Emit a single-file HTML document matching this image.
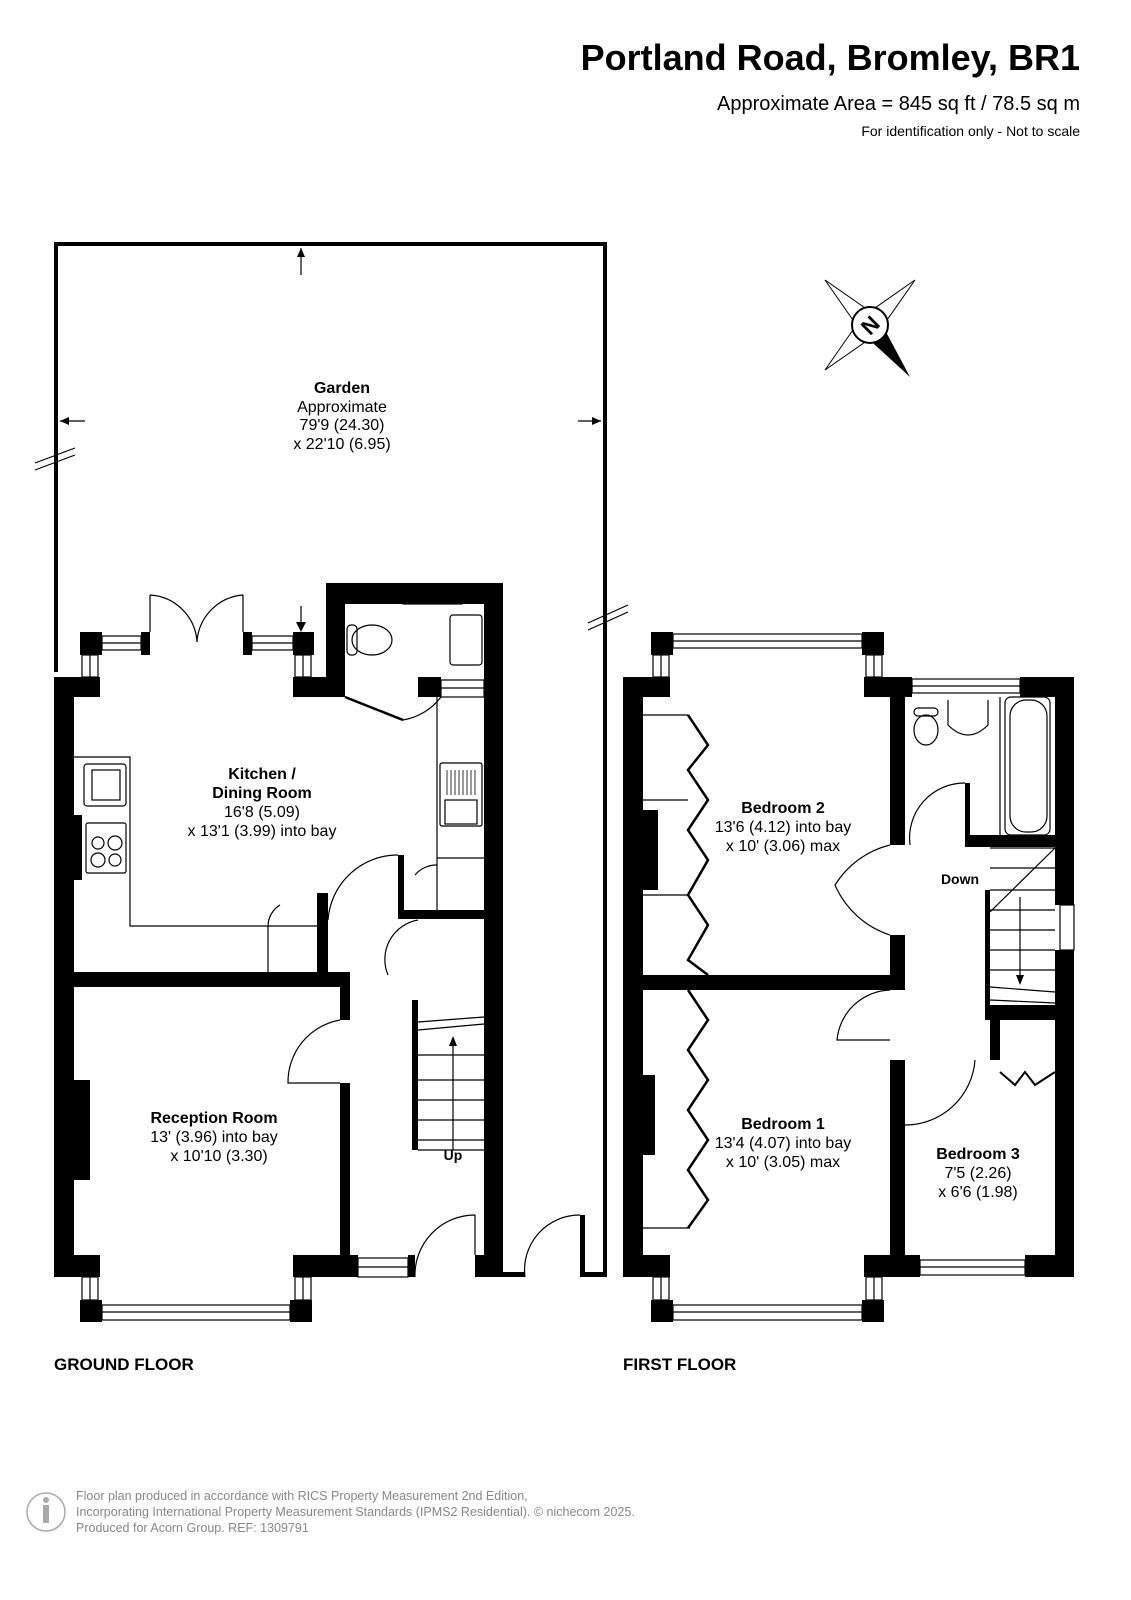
<!DOCTYPE html>
<html><head><meta charset="utf-8"><style>
html,body{margin:0;padding:0;background:#fff}
svg{display:block}
text{font-family:"Liberation Sans",Arial,sans-serif;fill:#000}
</style></head><body>
<svg width="1131" height="1600" viewBox="0 0 1131 1600" xmlns="http://www.w3.org/2000/svg">
<text x="1080" y="70" font-size="36" font-weight="bold" text-anchor="end">Portland Road, Bromley, BR1</text>
<text x="1080" y="110" font-size="20" text-anchor="end">Approximate Area = 845 sq ft / 78.5 sq m</text>
<text x="1080" y="136" font-size="14" text-anchor="end">For identification only - Not to scale</text>

<g fill="#000" stroke="none">
<rect x="54" y="242" width="553" height="4"/>
<rect x="54" y="242" width="4" height="430"/>
<rect x="603" y="242" width="4" height="1035"/>
<rect x="54" y="677" width="20" height="600"/>
<rect x="54" y="677" width="46" height="20"/>
<rect x="80" y="632" width="22" height="23"/>
<rect x="141" y="632" width="9" height="23"/>
<rect x="243" y="632" width="9" height="23"/>
<rect x="293" y="632" width="21" height="23"/>
<rect x="293" y="677" width="43" height="20"/>
<rect x="326" y="583" width="177" height="21"/>
<rect x="326" y="583" width="19" height="114"/>
<rect x="418" y="677" width="23" height="20"/>
<rect x="484" y="583" width="19" height="694"/>
<rect x="74" y="815" width="8" height="65"/>
<rect x="54" y="972" width="296" height="15"/>
<rect x="317" y="893" width="11" height="79"/>
<rect x="398" y="855" width="6" height="60"/>
<rect x="398" y="910" width="86" height="9"/>
<rect x="340" y="972" width="10" height="48"/>
<rect x="340" y="1083" width="10" height="182"/>
<rect x="74" y="1080" width="16" height="100"/>
<rect x="54" y="1255" width="46" height="22"/>
<rect x="80" y="1300" width="22" height="22"/>
<rect x="290" y="1300" width="22" height="22"/>
<rect x="293" y="1255" width="65" height="22"/>
<rect x="408" y="1255" width="7" height="22"/>
<rect x="475" y="1255" width="28" height="22"/>
<rect x="412" y="1000" width="6" height="150"/>
<rect x="503" y="1272" width="22" height="5"/>
<rect x="580" y="1215" width="5" height="62"/>
<rect x="585" y="1272" width="22" height="5"/>
<rect x="623" y="677" width="20" height="600"/>
<rect x="623" y="677" width="47" height="20"/>
<rect x="651" y="632" width="22" height="23"/>
<rect x="862" y="632" width="22" height="23"/>
<rect x="864" y="677" width="48" height="20"/>
<rect x="1020" y="677" width="54" height="20"/>
<rect x="1055" y="677" width="19" height="228"/>
<rect x="1055" y="950" width="19" height="327"/>
<rect x="890" y="697" width="15" height="148"/>
<rect x="890" y="935" width="15" height="55"/>
<rect x="643" y="975" width="262" height="15"/>
<rect x="965" y="835" width="90" height="12"/>
<rect x="965" y="783" width="5" height="62"/>
<rect x="985" y="890" width="5" height="120"/>
<rect x="985" y="1005" width="70" height="15"/>
<rect x="990" y="1020" width="10" height="40"/>
<rect x="890" y="1060" width="15" height="217"/>
<rect x="643" y="810" width="15" height="80"/>
<rect x="643" y="1075" width="12" height="80"/>
<rect x="623" y="1255" width="47" height="22"/>
<rect x="651" y="1300" width="22" height="22"/>
<rect x="862" y="1300" width="22" height="22"/>
<rect x="864" y="1255" width="56" height="22"/>
<rect x="1025" y="1255" width="49" height="22"/>
</g>

<g fill="none" stroke="#000" stroke-width="1.2">
<rect x="102" y="636" width="39" height="14"/><line x1="102" y1="643" x2="141" y2="643"/>
<rect x="252" y="636" width="41" height="14"/><line x1="252" y1="643" x2="293" y2="643"/>
<rect x="82" y="655" width="16" height="22"/><line x1="90" y1="655" x2="90" y2="677"/>
<rect x="295" y="655" width="16" height="22"/><line x1="303" y1="655" x2="303" y2="677"/>
<rect x="403" y="590" width="59" height="14"/><line x1="403" y1="597" x2="462" y2="597"/>
<rect x="441" y="680" width="43" height="17"/><line x1="441" y1="688" x2="484" y2="688"/>
<rect x="82" y="1277" width="16" height="23"/><line x1="90" y1="1277" x2="90" y2="1300"/>
<rect x="295" y="1277" width="16" height="23"/><line x1="303" y1="1277" x2="303" y2="1300"/>
<rect x="102" y="1305" width="188" height="15"/><line x1="102" y1="1312" x2="290" y2="1312"/>
<rect x="358" y="1258" width="50" height="19"/><line x1="358" y1="1267" x2="408" y2="1267"/>
<rect x="673" y="634" width="189" height="14"/><line x1="673" y1="641" x2="862" y2="641"/>
<rect x="653" y="655" width="16" height="22"/><line x1="661" y1="655" x2="661" y2="677"/>
<rect x="866" y="655" width="16" height="22"/><line x1="874" y1="655" x2="874" y2="677"/>
<rect x="912" y="679" width="108" height="14"/><line x1="912" y1="686" x2="1020" y2="686"/>
<rect x="1060" y="905" width="14" height="45"/>
<rect x="653" y="1277" width="16" height="23"/><line x1="661" y1="1277" x2="661" y2="1300"/>
<rect x="866" y="1277" width="16" height="23"/><line x1="874" y1="1277" x2="874" y2="1300"/>
<rect x="673" y="1305" width="189" height="15"/><line x1="673" y1="1312" x2="862" y2="1312"/>
<rect x="920" y="1260" width="105" height="15"/><line x1="920" y1="1267" x2="1025" y2="1267"/>
<path d="M150 595 V632 M150 595 A50 50 0 0 1 197 642"/>
<path d="M243 595 V632 M243 595 A50 50 0 0 0 197 642"/>
<path d="M441 697 A60 60 0 0 1 403 720"/>
<line x1="345" y1="697" x2="403" y2="720" stroke-width="2.5"/>
<path d="M398 855 A70 70 0 0 0 328 920"/>
<path d="M340 1020 A63 63 0 0 0 288 1083 H340"/>
<path d="M475 1215 V1255 M475 1215 A60 60 0 0 0 415 1277"/>
<path d="M580 1215 A55 55 0 0 0 525 1277"/>
<path d="M437 865 A28 28 0 0 0 415 875"/>
<path d="M418 920 A40 40 0 0 0 388 975"/>
<path d="M280 905 A25 25 0 0 0 268 926"/>
<path d="M890 845 A90 90 0 0 0 835 885 A90 90 0 0 0 890 935"/>
<path d="M965 783 A55 55 0 0 0 910 845"/>
<path d="M890 990 A55 55 0 0 0 837 1040 H890"/>
<path d="M905 1125 A70 70 0 0 0 975 1060"/>
<path d="M74 757 H130 V926 H318"/>
<line x1="268" y1="926" x2="268" y2="972"/>
<path d="M437 697 V910"/>
<line x1="437" y1="858" x2="484" y2="858"/>
<rect x="84" y="764" width="42" height="42" rx="3"/><rect x="92" y="770" width="28" height="30"/>
<rect x="86" y="823" width="40" height="50" rx="2"/>
<circle cx="98" cy="843" r="6"/><circle cx="115" cy="843" r="7"/><circle cx="98" cy="860" r="7"/><circle cx="115" cy="860" r="6"/>
<rect x="440" y="763" width="42" height="63" rx="2"/><rect x="445" y="800" width="32" height="24"/>
<path d="M447 770V795M451 770V795M455 770V795M459 770V795M463 770V795M467 770V795M471 770V795M475 770V795" stroke-width="0.8"/>
<ellipse cx="372" cy="640" rx="20" ry="15"/><rect x="347" y="625" width="10" height="30" rx="4"/>
<rect x="450" y="615" width="32" height="50" rx="3"/>
<path d="M418 1022 L484 1017 M418 1030 L484 1024 M418 1055 H484 M418 1080 H484 M418 1100 H484 M418 1120 H484 M418 1150 H484 M418 1140 H484"/>
<line x1="453" y1="1150" x2="453" y2="1040"/>
<ellipse cx="926" cy="730" rx="12" ry="15"/><rect x="914" y="708" width="24" height="8" rx="4"/>
<path d="M948 700 V725 Q968 745 988 725 V700"/>
<rect x="1005" y="697" width="45" height="138" rx="6"/><rect x="1010" y="700" width="37" height="132" rx="16"/>
<line x1="1000" y1="697" x2="1000" y2="835"/>
<path d="M990 848 H1055 M990 868 H1055 M990 890 H1055 M990 910 H1055 M990 930 H1055 M990 950 H1055 M990 970 H1055 M990 987 L1055 992 M990 1000 L1055 1003 M990 912 L1055 848"/>
<line x1="1020" y1="897" x2="1020" y2="980"/>
<path d="M643 715 H688 M643 800 H688 M643 895 H688"/>
<path d="M688 715 L708 745 L688 770 L708 800 L688 830 L708 860 L688 895 L708 925 L688 960 L708 975" stroke-width="2.5"/>
<path d="M643 1228 H690"/>
<path d="M688 990 L708 1020 L688 1050 L708 1080 L688 1110 L708 1140 L688 1170 L708 1200 L688 1228" stroke-width="2.5"/>
<path d="M1000 1072 L1015 1085 L1025 1072 L1035 1085 L1055 1072" stroke-width="2"/>
<path d="M35 463 L75 448 M35 470 L75 455"/>
<path d="M588 623 L628 605 M588 630 L628 612"/>
<line x1="301" y1="248" x2="301" y2="275"/>
<line x1="60" y1="421" x2="85" y2="421"/>
<line x1="578" y1="421" x2="601" y2="421"/>
<line x1="301" y1="606" x2="301" y2="628"/>
</g>
<g fill="#000">
<path d="M301 248 l-4 9 h8z"/><path d="M60 421 l9 -4 v8z"/><path d="M601 421 l-9 -4 v8z"/><path d="M301 632 l-5 -10 h10z"/>
<path d="M453 1036 l-4 10 h8z"/><path d="M1020 985 l-4 -10 h8z"/>
</g>
<g transform="translate(870,325)">
<path d="M-45 -45 L8 -8 L-8 8Z M45 -45 L8 8 L-8 -8Z M-45 45 L8 8 L-8 -8Z" fill="#fff" stroke="#000" stroke-width="1"/>
<path d="M40 52 L-8 8 L8 -8Z" fill="#000"/>
<circle r="18" fill="#fff" stroke="#000" stroke-width="2"/>
<text x="0" y="8" font-size="22" font-weight="bold" text-anchor="middle" transform="rotate(-45)">N</text>
</g>

<g font-size="16" text-anchor="middle">
<text x="342" y="393" font-weight="bold">Garden</text>
<text x="342" y="412">Approximate</text>
<text x="342" y="430">79'9 (24.30)</text>
<text x="342" y="449">x 22'10 (6.95)</text>
<text x="262" y="779" font-weight="bold">Kitchen /</text>
<text x="262" y="798" font-weight="bold">Dining Room</text>
<text x="262" y="817">16'8 (5.09)</text>
<text x="262" y="836">x 13'1 (3.99) into bay</text>
<text x="214" y="1123" font-weight="bold">Reception Room</text>
<text x="214" y="1142">13' (3.96) into bay</text>
<text x="219" y="1161">x 10'10 (3.30)</text>
<text x="453" y="1160" font-weight="bold" font-size="14">Up</text>
<text x="783" y="813" font-weight="bold">Bedroom 2</text>
<text x="783" y="832">13'6 (4.12) into bay</text>
<text x="783" y="851">x 10' (3.06) max</text>
<text x="960" y="884" font-weight="bold" font-size="14">Down</text>
<text x="783" y="1129" font-weight="bold">Bedroom 1</text>
<text x="783" y="1148">13'4 (4.07) into bay</text>
<text x="783" y="1167">x 10' (3.05) max</text>
<text x="978" y="1159" font-weight="bold">Bedroom 3</text>
<text x="978" y="1178">7'5 (2.26)</text>
<text x="978" y="1197">x 6'6 (1.98)</text>
</g>
<text x="54" y="1370" font-size="17" font-weight="bold">GROUND FLOOR</text>
<text x="623" y="1370" font-size="17" font-weight="bold">FIRST FLOOR</text>
<circle cx="46" cy="1512" r="19" fill="none" stroke="#aaa" stroke-width="1.5"/>
<circle cx="46" cy="1500" r="3" fill="#aaa"/><rect x="43" y="1505" width="6" height="18" fill="#aaa"/>
<g font-size="12.5">
<text x="76" y="1500" style="fill:#888">Floor plan produced in accordance with RICS Property Measurement 2nd Edition,</text>
<text x="76" y="1516" style="fill:#888">Incorporating International Property Measurement Standards (IPMS2 Residential).   © nichecom 2025.</text>
<text x="76" y="1532" style="fill:#888">Produced for Acorn Group.   REF: 1309791</text>
</g>
</svg>
</body></html>
